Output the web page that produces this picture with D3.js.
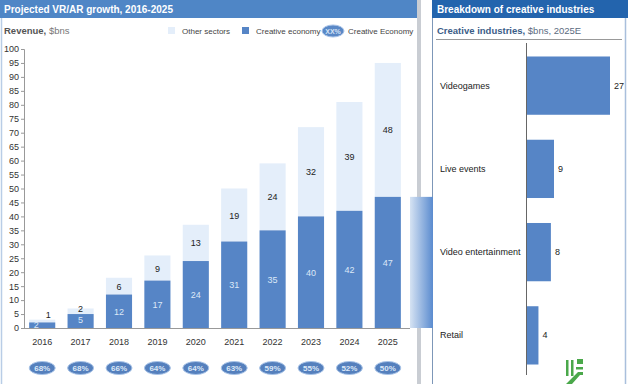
<!DOCTYPE html>
<html><head><meta charset="utf-8">
<script src="https://cdn.jsdelivr.net/npm/d3@7"></script>
<style>
body{margin:0;background:#fff;}
svg{display:block;font-family:Arial,"Liberation Sans",sans-serif;}
</style></head>
<body>
<svg id="c" width="628" height="384"></svg>
<script>
const years = ["2016","2017","2018","2019","2020","2021","2022","2023","2024","2025"];
const creative = [2,5,12,17,24,31,35,40,42,47];
const other = [1,2,6,9,13,19,24,32,39,48];
const shares = ["68%","68%","66%","64%","64%","63%","59%","55%","52%","50%"];
const yTicks = d3.range(0,101,5);
const industries = ["Videogames","Live events","Video entertainment","Retail"];
const industryValues = [27,9,8,4];

const dark = "#5685c6", light = "#e4eefa";
const svg = d3.select("#c");

// panel backgrounds / borders
svg.append("rect").attr("x",0).attr("y",0).attr("width",628).attr("height",384).attr("fill","#fff");
svg.append("rect").attr("x",0).attr("y",0).attr("width",418).attr("height",18).attr("fill","#4f86c6");
svg.append("text").attr("x",4).attr("y",12.5).attr("fill","#fff").attr("font-size",10).attr("font-weight","bold").text("Projected VR/AR growth, 2016-2025");
svg.append("line").attr("x1",1.5).attr("x2",1.5).attr("y1",18).attr("y2",384).attr("stroke","#b9cde6").attr("stroke-width",1.5);
svg.append("rect").attr("x",417).attr("y",0).attr("width",4).attr("height",384).attr("fill","#c9cdd3");
svg.append("rect").attr("x",432).attr("y",0).attr("width",196).attr("height",18).attr("fill","#2364ad");
svg.append("text").attr("x",437).attr("y",12.5).attr("fill","#fff").attr("font-size",10).attr("font-weight","bold").text("Breakdown of creative industries");
svg.append("line").attr("x1",432.5).attr("x2",432.5).attr("y1",18).attr("y2",384).attr("stroke","#7d97b8").attr("stroke-width",1);
svg.append("line").attr("x1",625.5).attr("x2",625.5).attr("y1",18).attr("y2",384).attr("stroke","#a9bfdc").attr("stroke-width",1.5);

// left header labels
const rev = svg.append("text").attr("x",4).attr("y",34).attr("font-size",9.5).attr("fill","#555");
rev.append("tspan").attr("font-weight","bold").text("Revenue,");
rev.append("tspan").attr("fill","#777").text(" $bns");

// legend
svg.append("rect").attr("x",168).attr("y",27).attr("width",7).attr("height",7).attr("fill",light);
svg.append("text").attr("x",182).attr("y",34).attr("font-size",8).attr("fill","#444").text("Other sectors");
svg.append("rect").attr("x",242).attr("y",27).attr("width",7).attr("height",7).attr("fill",dark);
svg.append("text").attr("x",256).attr("y",34).attr("font-size",8).attr("fill","#444").text("Creative economy");
svg.append("ellipse").attr("cx",333).attr("cy",31).attr("rx",11).attr("ry",6).attr("fill","#5a88c6").attr("stroke","#a9c4e8");
svg.append("text").attr("x",333).attr("y",34).attr("text-anchor","middle").attr("font-size",7).attr("fill","#d6e4f6").attr("font-weight","bold").text("XX%");
svg.append("text").attr("x",348).attr("y",34).attr("font-size",8).attr("fill","#444").text("Creative Economy");

// scales left
const x = d3.scaleBand().domain(years).range([23,407]).paddingInner(0.32).paddingOuter(0.16);
const y = d3.scaleLinear().domain([0,100]).range([328,49]);

// connector gradient
const defs = svg.append("defs");
const g = defs.append("linearGradient").attr("id","conn").attr("x1","0").attr("x2","1");
g.append("stop").attr("offset","0").attr("stop-color","#d6e3f3");
g.append("stop").attr("offset","1").attr("stop-color","#5a8bcf");
svg.append("rect").attr("x",410).attr("y",y(creative[9])).attr("width",23).attr("height",y(0)-y(creative[9]))
  .attr("fill","url(#conn)");

// axis
const ya = svg.append("g").attr("transform","translate(24,0)")
  .call(d3.axisLeft(y).tickValues(yTicks).tickSize(3).tickPadding(2));
ya.select(".domain").attr("stroke","#999");
ya.selectAll(".tick line").attr("stroke","#999");
ya.selectAll("text").attr("font-size",9).attr("fill","#333").attr("font-family","Arial,'Liberation Sans',sans-serif");

// bars
const bars = svg.append("g");
years.forEach((yr,i)=>{
  const c = creative[i], o = other[i];
  bars.append("rect").attr("x",x(yr)).attr("width",x.bandwidth()).attr("y",y(c+o)).attr("height",y(c)-y(c+o)).attr("fill",light);
  bars.append("rect").attr("x",x(yr)).attr("width",x.bandwidth()).attr("y",y(c)).attr("height",y(0)-y(c)).attr("fill",dark);
  const cx = x(yr)+x.bandwidth()/2;
  let cX = cx, cY = (y(0)+y(c))/2+3.5, oX = cx, oY = (y(c)+y(c+o))/2+3.5;
  if (i===0){ cX = cx-6; cY = y(0)-0.5; oX = cx+6; oY = y(c+o)-2; }
  if (i===1){ oY = y(c+o)+4; cY = y(c)+9; }
  bars.append("text").attr("x",cX).attr("y",cY).attr("text-anchor","middle").attr("font-size",9).attr("fill","#dce8f7").text(c);
  bars.append("text").attr("x",oX).attr("y",oY).attr("text-anchor","middle").attr("font-size",9).attr("fill","#222").text(o);
  svg.append("text").attr("x",cx).attr("y",345).attr("text-anchor","middle").attr("font-size",9).attr("fill","#333").text(yr);
  svg.append("ellipse").attr("cx",cx).attr("cy",368).attr("rx",13).attr("ry",6.5).attr("fill","#5580bd").attr("stroke","#a9c4e8").attr("stroke-width",1);
  svg.append("text").attr("x",cx).attr("y",371).attr("text-anchor","middle").attr("font-size",8).attr("font-weight","bold").attr("fill","#dce8f8").text(shares[i]);
});
svg.append("line").attr("x1",24).attr("x2",410).attr("y1",328.5).attr("y2",328.5).attr("stroke","#999");

// right panel
const sub = svg.append("text").attr("x",437).attr("y",34).attr("font-size",9.5).attr("fill","#3b5c87");
sub.append("tspan").attr("font-weight","bold").text("Creative industries,");
sub.append("tspan").attr("fill","#5b6b80").text(" $bns, 2025E");
svg.append("line").attr("x1",436).attr("x2",622).attr("y1",39.5).attr("y2",39.5).attr("stroke","#999");

const hx = d3.scaleLinear().domain([0,27]).range([526,610]);
const hy = d3.scaleBand().domain(industries).range([44,377]).paddingInner(0.3).paddingOuter(0.15);
const hb = svg.append("g");
industries.forEach((name,i)=>{
  const v = industryValues[i];
  hb.append("rect").attr("x",hx(0)).attr("y",hy(name)).attr("width",hx(v)-hx(0)).attr("height",hy.bandwidth()).attr("fill",dark);
  hb.append("text").attr("x",hx(v)+4).attr("y",hy(name)+hy.bandwidth()/2+3).attr("font-size",9).attr("fill","#222").text(v);
  hb.append("text").attr("x",440).attr("y",hy(name)+hy.bandwidth()/2+3).attr("font-size",9).attr("fill","#222").text(name);
});
svg.append("line").attr("x1",526.5).attr("x2",526.5).attr("y1",43).attr("y2",375).attr("stroke","#666");

// logo
const lg = svg.append("g").attr("fill","#4aa84a");
lg.append("rect").attr("x",566).attr("y",360).attr("width",2.5).attr("height",16);
lg.append("rect").attr("x",571).attr("y",360).attr("width",2.5).attr("height",16);
lg.append("rect").attr("x",577).attr("y",359).attr("width",6).attr("height",5);
lg.append("rect").attr("x",576).attr("y",367).attr("width",7).attr("height",2.5);
lg.append("polygon").attr("points","566,384 578,372 583,372 583,375 580,375 572,384");
</script>
</body></html>
